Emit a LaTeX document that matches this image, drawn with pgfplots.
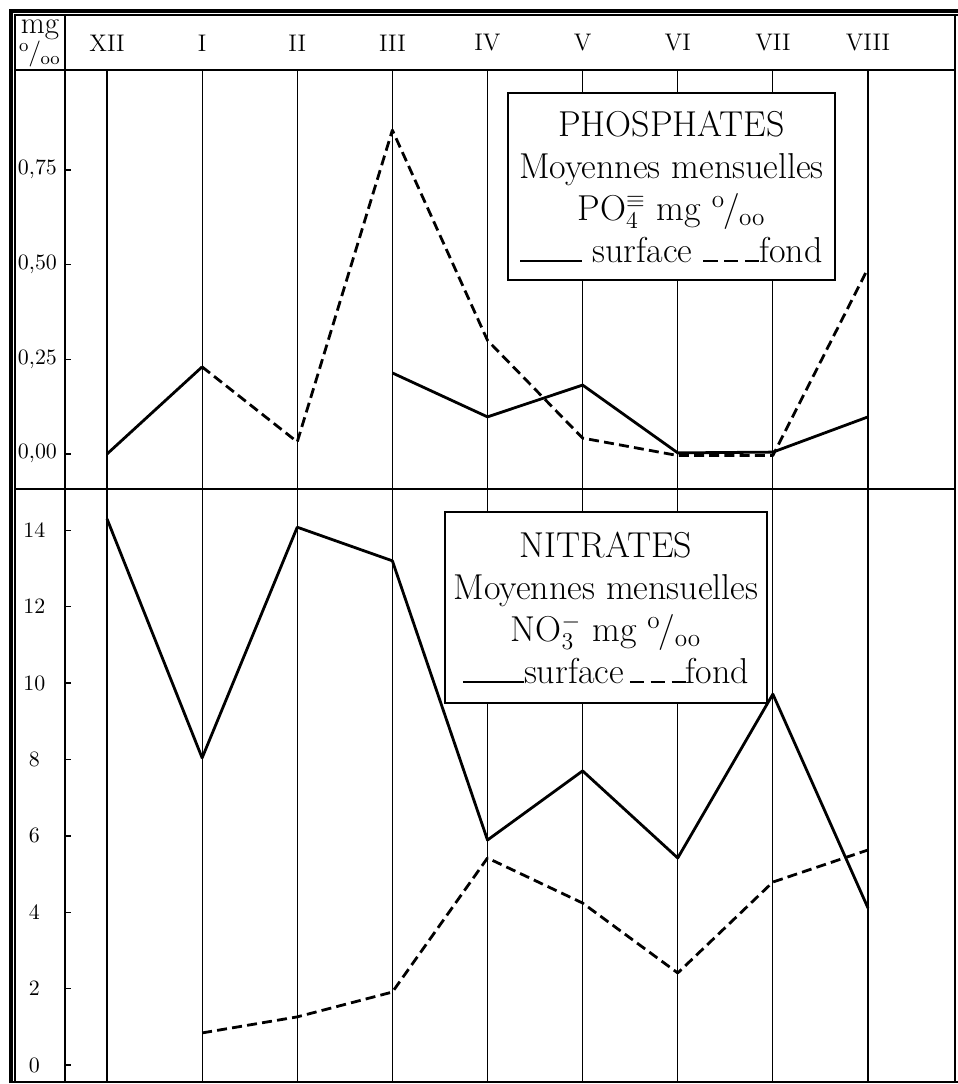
\documentclass[border=0pt]{standalone}
\usepackage{pgfplots}
\pgfplotsset{compat=1.18}
\newcommand{\permil}{\textsuperscript{o}\kern-0.05em/\kern-0.02em\textsubscript{oo}}
\newcommand{\solidsample}{\rule{1.7em}{1.2pt}}
\newcommand{\dashsample}{\rule{0.4em}{1.2pt}\hspace{0.18em}\rule{0.4em}{1.2pt}\hspace{0.18em}\rule{0.4em}{1.2pt}}
\begin{document}
\begin{tikzpicture}
\pgfplotsset{
  panel/.style={
    scale only axis, width=445pt,
    xmin=-0.4415, xmax=8.9146,
    xtick={0,1,2,3,4,5,6,7,8},
    xmajorgrids, grid style={black, line width=0.55pt},
    axis line style={line width=0.7pt},
    ytick pos=left, tick align=inside, major tick length=3pt,
    xtick style={draw=none},
    ytick style={black, line width=0.7pt},
    unbounded coords=jump,
  },
  surf/.style={black, line width=1.4pt, line join=round},
  fond/.style={black, line width=1.4pt, line join=round, dash pattern=on 5pt off 2.6pt},
}
% ---------- top panel : phosphates ----------
\begin{axis}[panel,
  at={(32.5pt,-244.5pt)}, anchor=south west, height=209.5pt,
  ymin=-0.0924, ymax=1.0137,
  ytick={0,0.25,0.5,0.75},
  yticklabel style={xshift=-0.5pt, font=\fontsize{11}{12}\selectfont,
    /pgf/number format/.cd, fixed, fixed zerofill, precision=2, use comma},
  xticklabel pos=right,
  xticklabels={XII,I,II,III,IV,V,VI,VII,VIII},
  xticklabel style={anchor=center, yshift=13.5pt, font=\fontsize{12}{12}\selectfont},
]
\addplot[surf] coordinates {(0,0.00) (1,0.23) (2,nan) (3,0.214) (4,0.098) (5,0.182) (6,0.003) (7,0.005) (8,0.098)};
\addplot[fond] coordinates {(1,0.23) (2,0.032) (3,0.855) (4,0.30) (5,0.042) (6,-0.004) (7,-0.004) (8,0.49)};
\end{axis}
% ---------- bottom panel : nitrates ----------
\begin{axis}[panel,
  at={(32.5pt,-541pt)}, anchor=south west, height=296.5pt,
  ymin=-0.445, ymax=15.08,
  ytick={0,2,4,6,8,10,12,14},
  yticklabel={\makebox[0pt][c]{\pgfmathprintnumber{\tick}}},
  yticklabel style={xshift=-11.75pt, font=\fontsize{11}{12}\selectfont},
  xticklabels={},
]
\addplot[surf] coordinates {(0,14.3) (1,8.04) (2,14.08) (3,13.2) (4,5.89) (5,7.70) (6,5.42) (7,9.71) (8,4.11)};
\addplot[fond] coordinates {(1,0.84) (2,1.26) (3,1.91) (4,5.42) (5,4.24) (6,2.41) (7,4.79) (8,5.63)};
\end{axis}
% ---------- frame and labels ----------
\begin{scope}[x=0.5pt, y=-0.5pt]
\draw[line width=1.6pt] (11,1083) -- (11,11) -- (958,11);
\draw[line width=0.6pt] (15,1082) -- (15,15) -- (958,15);
\draw[line width=0.7pt] (15,70) -- (955,70);
\draw[line width=0.7pt] (65,15) -- (65,70);
\draw[line width=0.7pt] (955,15) -- (955,70);
\draw[line width=0.7pt] (15,489) -- (65,489);
\draw[line width=0.7pt] (11,1082) -- (958,1082);
\node[inner sep=0pt] at (40,30) {\fontsize{15.5}{15}\selectfont mg};
\node[inner sep=0pt] at (40,54) {\fontsize{13}{13}\selectfont\permil};
\node[draw, line width=1.1pt, fill=white, minimum width=163.5pt, minimum height=93.5pt, inner sep=0pt, align=center,
      font=\fontsize{18}{21}\selectfont] at (671.5,186.5)
  {PHOSPHATES\\Moyennes mensuelles\\PO$_4^{\equiv}$ mg \permil\\\solidsample\ surface \dashsample fond};
\node[draw, line width=1.1pt, fill=white, minimum width=161pt, minimum height=95.5pt, inner sep=0pt, align=center,
      font=\fontsize{18}{21}\selectfont] at (606,607.5)
  {NITRATES\\Moyennes mensuelles\\NO$_3^{-}$ mg \permil\\\solidsample surface\,\dashsample fond};
\end{scope}
% fixed bounding box = reference canvas (958 x 1084 px at 0.5pt/px)
\pgfresetboundingbox
\path (0pt,0pt) rectangle (479pt,-542pt);
\end{tikzpicture}
\end{document}
